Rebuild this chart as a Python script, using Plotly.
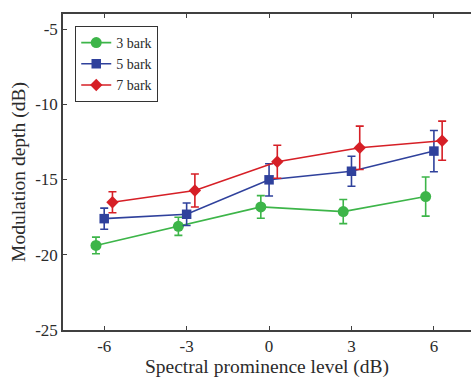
import plotly.graph_objects as go

levels = [-6, -3, 0, 3, 6]
tick_labels = ["-6", "-3", "0", "3", "6"]
offsets = {"3 bark": -0.3, "5 bark": 0.0, "7 bark": 0.3}

green_mean = [-19.38, -18.11, -16.82, -17.13, -16.13]
green_err = [0.55, 0.6, 0.75, 0.8, 1.3]
blue_mean = [-17.6, -17.31, -15.02, -14.45, -13.11]
blue_err = [0.7, 0.75, 1.07, 1.0, 1.37]
red_mean = [-16.51, -15.73, -13.82, -12.89, -12.42]
red_err = [0.7, 1.1, 1.1, 1.44, 1.3]

y_ticks = [-25, -20, -15, -10, -5]
y_tick_labels = ["-25", "-20", "-15", "-10", "-5"]

series = [
    ("3 bark", green_mean, green_err, "#3db549", "circle", 11),
    ("5 bark", blue_mean, blue_err, "#2f419c", "square", 9.5),
    ("7 bark", red_mean, red_err, "#d61f26", "diamond", 9.5),
]

fig = go.Figure()
for name, mean, err, color, sym, size in series:
    xs = [v + offsets[name] for v in levels]
    fig.add_trace(go.Scatter(
        x=xs, y=mean, name=name, mode="lines+markers",
        line=dict(color=color, width=1.6),
        marker=dict(color=color, symbol=sym, size=size),
        error_y=dict(type="data", array=err, visible=True, color=color,
                     thickness=1.6, width=4),
    ))

axis_color = "#404040"
font_family = "Liberation Serif, Times New Roman, serif"
text_color = "#2b2b2b"

fig.update_layout(
    width=471, height=381,
    margin=dict(l=63, r=0, t=14, b=51),
    paper_bgcolor="white", plot_bgcolor="white",
    font=dict(family=font_family, size=17, color=text_color),
    showlegend=True,
    legend=dict(
        x=0.03, y=0.962, xanchor="left", yanchor="top",
        bordercolor="#333333", borderwidth=1, bgcolor="white",
        font=dict(family=font_family, size=14, color=text_color),
        tracegroupgap=0, itemsizing="trace",
    ),
    xaxis=dict(
        range=[-7.5, 7.35], tickmode="array", tickvals=levels, ticktext=tick_labels,
        ticks="inside", ticklen=4, tickwidth=1.2, tickcolor=axis_color,
        showline=True, linecolor=axis_color, linewidth=1.6, mirror="ticks",
        showgrid=False, zeroline=False,
        title=dict(text="Spectral prominence level (dB)", font=dict(size=19.5), standoff=2),
    ),
    yaxis=dict(
        range=[-25, -4], tickmode="array", tickvals=y_ticks, ticktext=y_tick_labels,
        ticks="inside", ticklen=4, tickwidth=1.2, tickcolor=axis_color,
        showline=True, linecolor=axis_color, linewidth=1.6, mirror=False,
        showgrid=False, zeroline=False,
        title=dict(text="Modulation depth (dB)", font=dict(size=19.5), standoff=4),
    ),
    yaxis2=dict(
        overlaying="y", side="right", anchor="x", range=[-25, -4],
        tickmode="array", tickvals=y_ticks, showticklabels=False,
        ticks="inside", ticklen=4, tickwidth=1.2, tickcolor=axis_color,
        showline=False, showgrid=False, zeroline=False,
    ),
)

fig.write_html("out.html")
